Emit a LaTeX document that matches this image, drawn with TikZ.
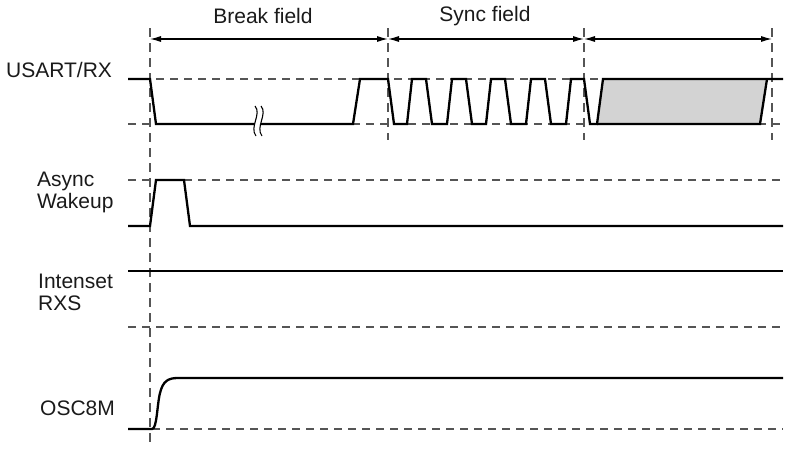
\documentclass[tikz,border=0pt]{standalone}
\usepackage{fontspec}
\setmainfont{Liberation Sans}
\usetikzlibrary{arrows.meta}
\definecolor{dashgray}{HTML}{555555}
\definecolor{textcol}{HTML}{1A1A1A}
\definecolor{fieldgray}{HTML}{D3D3D3}
\tikzset{
  sig/.style={line width=2.3pt, line join=miter, black},
  guide/.style={line width=1.2pt, dashgray, dash pattern=on 8pt off 6pt},
  marker/.style={line width=1.2pt, dashgray, dash pattern=on 9pt off 6pt},
  span/.style={line width=1.1pt, black, {Latex[length=11pt,width=6pt]}-{Latex[length=11pt,width=6pt]}},
  lbl/.style={anchor=west, inner sep=0pt, text=textcol, font=\fontsize{21}{25}\selectfont, align=left},
  fieldlbl/.style={inner sep=0pt, text=textcol, font=\fontsize{21}{25}\selectfont}
}
\begin{document}
\begin{tikzpicture}[x=1pt,y=-1pt]
\useasboundingbox (0,0) rectangle (791,453);
% marker coordinates
\coordinate (m0t) at (150,28);  \coordinate (m0b) at (150,446);
\coordinate (m1t) at (388,28);  \coordinate (m1b) at (388,140);
\coordinate (m2t) at (584,28);  \coordinate (m2b) at (584,140);
\coordinate (m3t) at (772,28);  \coordinate (m3b) at (772,140);
\coordinate (a0) at (150,39); \coordinate (a1) at (388,39);
\coordinate (a2) at (584,39); \coordinate (a3) at (772,39);
% labels
\node[lbl] (lrx) at (6,70) {USART/RX};
\node[lbl] (law) at (37,192) {Async\\[-3pt]Wakeup};
\node[lbl] (lis) at (38,292) {Intenset\\[-3pt]RXS};
\node[lbl] (losc) at (40,408) {OSC8M};
\node[fieldlbl] (lbreak) at (263,16) {Break field};
\node[fieldlbl] (lsync) at (485,16) {Sync field};
% vertical markers
\draw[marker] (m0t) -- (m0b);
\draw[marker] (m1t) -- (m1b);
\draw[marker] (m2t) -- (m2b);
\draw[marker] (m3t) -- (m3b);
% span arrows
\draw[span] (a0) -- (a1);
\draw[span] (a1) -- (a2);
\draw[span] (a2) -- (a3);
% guide lines
\draw[guide] (128,79) -- (783,79);
\draw[guide] (128,124) -- (783,124);
\draw[guide] (128,180) -- (783,180);
\draw[guide] (128,327) -- (783,327);
\draw[guide] (152,429) -- (783,429);
% USART/RX
\fill[fieldgray] (597,124) -- (603,79) -- (767,79) -- (760,124) -- cycle;
\draw[sig] (128,79) -- (150,79) -- (156,124) -- (353,124) -- (360,79) -- (388,79)
  -- (394,124) -- (407,124) -- (412,79) -- (426,79)
  -- (432,124) -- (447,124) -- (452,79) -- (466,79)
  -- (472,124) -- (486,124) -- (491,79) -- (505,79)
  -- (511,124) -- (526,124) -- (531,79) -- (545,79)
  -- (551,124) -- (566,124) -- (571,79) -- (584,79)
  -- (590,124) -- (597,124) -- (603,79) -- (783,79);
\draw[sig] (597,124) -- (760,124) -- (767,79);
% break symbol
\fill[white] (255,106) .. controls (262,114) and (249,127) .. (256,136)
  -- (262,136) .. controls (255,127) and (268,114) .. (261,106) -- cycle;
\draw[line width=1.1pt] (255,106) .. controls (262,114) and (249,127) .. (256,136);
\draw[line width=1.1pt] (261,106) .. controls (268,114) and (255,127) .. (262,136);
% Async Wakeup
\draw[sig] (128,226) -- (150,226) -- (156,180) -- (184,180) -- (190,226) -- (783,226);
% Intenset RXS
\draw[sig] (128,271) -- (783,271);
% OSC8M
\draw[sig] (128,429) -- (152,429) .. controls (157,429) and (157,405) .. (160,393)
  .. controls (163,381) and (168,378) .. (178,378) -- (783,378);
\end{tikzpicture}
\end{document}
